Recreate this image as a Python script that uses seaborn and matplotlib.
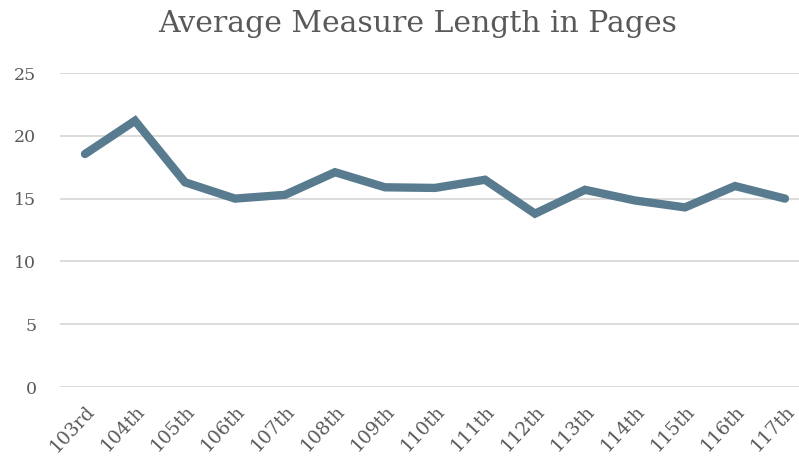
import pandas as pd
import matplotlib
matplotlib.use('Agg')
import matplotlib.pyplot as plt
import seaborn as sns

# Data
congress = ['103rd', '104th', '105th', '106th', '107th', '108th', '109th', '110th',
            '111th', '112th', '113th', '114th', '115th', '116th', '117th']
avg_pages = [18.55, 21.2, 16.3, 15.0, 15.3, 17.1, 15.9, 15.85,
             16.5, 13.8, 15.7, 14.85, 14.3, 16.0, 15.0]

df = pd.DataFrame({'Congress': congress, 'Pages': avg_pages})

sns.set_theme(style='white')
plt.rcParams['font.family'] = ['DejaVu Serif']

fig = plt.figure(figsize=(7.99, 4.66), dpi=100)
ax = fig.add_axes([60 / 799, 1 - 387 / 466, 750 / 799, (387 - 73) / 466])

sns.lineplot(data=df, x='Congress', y='Pages', ax=ax, color='#587b90',
             linewidth=6, sort=False, solid_capstyle='round', solid_joinstyle='miter')

ax.set_xlim(-0.5, len(congress) - 0.5)
ax.set_ylim(0, 25)
ax.set_yticks([0, 5, 10, 15, 20, 25])
ax.yaxis.grid(True, color='#d9d9d9', linewidth=1.3)
ax.set_axisbelow(True)
for s in ax.spines.values():
    s.set_visible(False)

ax.set_xlabel('')
ax.set_ylabel('')
ax.tick_params(axis='y', labelsize=12.5, labelcolor='#595959', length=0, pad=17)
ax.tick_params(axis='x', labelsize=13.5, labelcolor='#595959', length=0, pad=11)
plt.setp(ax.get_xticklabels(), rotation=47, ha='right', rotation_mode='anchor')

fig.suptitle('Average Measure Length in Pages', x=418 / 799, y=1 - 24 / 466,
             va='center', fontsize=21.5, color='#595959')

fig.savefig('out.png', dpi=100)
